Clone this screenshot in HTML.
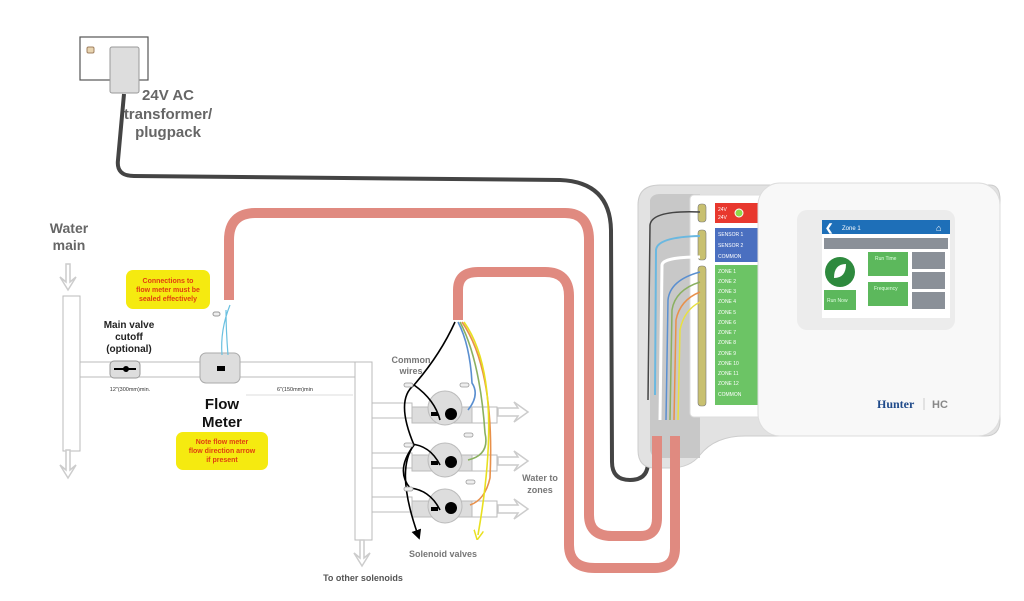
<!DOCTYPE html>
<html><head><meta charset="utf-8"><style>
html,body{margin:0;padding:0;background:#fff;}
svg{display:block;font-family:"Liberation Sans",Arial,sans-serif;}
</style></head><body>
<svg width="1024" height="601" viewBox="0 0 1024 601" xmlns="http://www.w3.org/2000/svg">
<defs>
<marker id="ah" markerUnits="userSpaceOnUse" markerWidth="10" markerHeight="10" refX="5" refY="5" orient="auto"><path d="M0,0 L10,5 L0,10 Z" fill="#000"/></marker>
<marker id="ay" markerUnits="userSpaceOnUse" markerWidth="10" markerHeight="10" refX="5" refY="5" orient="auto"><path d="M0,0 L10,5 L0,10" fill="none" stroke="#e8e020" stroke-width="1.5"/></marker>
</defs>
<rect width="1024" height="601" fill="#fff"/>

<!-- wall plug -->
<rect x="80" y="37" width="68" height="43" fill="#fff" stroke="#555" stroke-width="1.2"/>
<rect x="87" y="47" width="7" height="6" rx="1.5" fill="#e8d4b0" stroke="#a08060"/>
<rect x="110" y="47" width="29" height="46" rx="2" fill="#ddd" stroke="#999"/>
<text x="168" y="100" font-size="15" font-weight="bold" fill="#666" text-anchor="middle">24V AC</text>
<text x="168" y="119" font-size="15" font-weight="bold" fill="#666" text-anchor="middle">transformer/</text>
<text x="168" y="137" font-size="15" font-weight="bold" fill="#666" text-anchor="middle">plugpack</text>

<!-- dark power cable -->
<path d="M124,94 L118,160 Q116,176 134,176 L560,180 Q610,182 611,230 L612,462 Q612,480 630,480 Q648,480 648,462 L648,395" fill="none" stroke="#444" stroke-width="4"/>

<!-- controller housing -->
<path d="M660,185 L990,185 Q1000,185 1000,200 L1000,420 Q1000,436 985,436 L745,436 Q715,436 700,455 Q690,468 670,468 L655,468 Q638,468 638,450 L638,205 Q638,185 660,185 Z" fill="#e2e2e2" stroke="#ccc"/>
<path d="M650,200 Q652,194 660,194 L700,194 L700,458 L660,458 Q650,458 650,448 Z" fill="#c8c8c8"/>
<!-- terminal strip -->
<rect x="690" y="195" width="75" height="222" rx="4" fill="#fff" stroke="#ddd"/>
<rect x="715" y="203" width="45" height="20" fill="#e8382e"/>
<text x="718" y="211" font-size="5" fill="#fff">24V</text>
<text x="718" y="219" font-size="5" fill="#fff">24V</text>
<circle cx="739" cy="213" r="4" fill="#8fd84a" stroke="#fff"/>
<rect x="715" y="228" width="45" height="34" fill="#4a6fc0"/>
<text x="718" y="236" font-size="5" fill="#fff">SENSOR 1</text>
<text x="718" y="247" font-size="5" fill="#fff">SENSOR 2</text>
<text x="718" y="258" font-size="5" fill="#fff">COMMON</text>
<rect x="715" y="265" width="45" height="140" fill="#6cc465"/>
<g font-size="5" fill="#fff">
<text x="718" y="273">ZONE 1</text><text x="718" y="283">ZONE 2</text><text x="718" y="293">ZONE 3</text>
<text x="718" y="303">ZONE 4</text><text x="718" y="314">ZONE 5</text><text x="718" y="324">ZONE 6</text>
<text x="718" y="334">ZONE 7</text><text x="718" y="344">ZONE 8</text><text x="718" y="355">ZONE 9</text>
<text x="718" y="365">ZONE 10</text><text x="718" y="375">ZONE 11</text><text x="718" y="385">ZONE 12</text>
<text x="718" y="396">COMMON</text>
</g>
<g fill="#c8c070" stroke="#777" stroke-width="0.6">
<rect x="698" y="204" width="8" height="18" rx="3"/>
<rect x="698" y="230" width="8" height="30" rx="3"/>
<rect x="698" y="266" width="8" height="140" rx="3"/>
</g>
<!-- wires to terminals -->
<path d="M655,395 L656,250 Q657,237 700,236" fill="none" stroke="#6ab8e0" stroke-width="2"/>
<path d="M660,420 L662,265 Q663,257 700,257" fill="none" stroke="#fff" stroke-width="3"/>
<path d="M666,420 L668,300 Q670,280 700,272" fill="none" stroke="#5a8fd0" stroke-width="1.5"/>
<path d="M670,420 L672,310 Q675,290 700,282" fill="none" stroke="#8ab060" stroke-width="1.5"/>
<path d="M674,420 L676,320 Q680,300 700,292" fill="none" stroke="#e8904a" stroke-width="1.5"/>
<path d="M678,420 L680,330 Q684,310 700,302" fill="none" stroke="#e8e040" stroke-width="1.5"/>
<path d="M648,400 L650,225 Q652,210 700,212" fill="none" stroke="#444" stroke-width="1.5"/>
<!-- front cover -->
<rect x="758" y="183" width="242" height="253" rx="22" fill="#f8f8f8" stroke="#ddd"/>
<rect x="797" y="210" width="158" height="120" rx="10" fill="#ececec"/>
<rect x="822" y="220" width="128" height="98" fill="#fff"/>
<rect x="822" y="220" width="128" height="14" fill="#1e6fb8"/>
<text x="825" y="231" font-size="10" font-weight="bold" fill="#fff">❮</text>
<text x="842" y="230" font-size="6" fill="#fff">Zone 1</text>
<text x="936" y="231" font-size="9" fill="#fff">⌂</text>
<rect x="824" y="238" width="124" height="11" fill="#8a9098"/>
<circle cx="840" cy="272" r="15" fill="#2e8a3e"/>
<path d="M834,278 Q834,264 846,264 Q846,278 834,278 Z" fill="#fff"/>
<rect x="824" y="290" width="32" height="20" fill="#5cb85c"/>
<text x="827" y="302" font-size="5" fill="#e0ffe0">Run Now</text>
<rect x="868" y="252" width="40" height="24" fill="#5cb85c"/>
<text x="875" y="260" font-size="5" fill="#e0ffe0">Run Time</text>
<rect x="868" y="282" width="40" height="24" fill="#5cb85c"/>
<text x="874" y="290" font-size="5" fill="#e0ffe0">Frequency</text>
<rect x="912" y="252" width="33" height="17" fill="#8a9098"/>
<rect x="912" y="272" width="33" height="17" fill="#8a9098"/>
<rect x="912" y="292" width="33" height="17" fill="#8a9098"/>
<text x="877" y="408" font-size="12" font-weight="bold" fill="#1f4a8a" font-family="Liberation Serif,serif">Hunter</text>
<line x1="924" y1="398" x2="924" y2="410" stroke="#ccc"/>
<text x="932" y="408" font-size="11" font-weight="bold" fill="#888">HC</text>

<!-- pink cables -->
<g fill="none" stroke="#e08a80" stroke-width="10" stroke-linecap="butt">
<path d="M229,300 L229,240 Q229,213 256,213 L565,213 Q589,213 589,240 L589,515 Q589,536 612,536 L640,536 Q657,536 657,518 L657,436"/>
<path d="M458,320 L458,290 Q458,272 478,272 L545,272 Q569,272 569,296 L569,545 Q569,568 595,568 L655,568 Q675,568 675,548 L675,436"/>
</g>

<!-- pipes -->
<g fill="#fff" stroke="#bbb" stroke-width="1">
<rect x="63" y="296" width="17" height="155"/>
<rect x="80" y="362" width="275" height="15"/>
<rect x="355" y="362" width="17" height="178"/>
<rect x="372" y="403" width="40" height="15"/>
<rect x="372" y="453" width="40" height="15"/>
<rect x="372" y="497" width="40" height="15"/>
</g>
<!-- flow arrows -->
<g fill="#fff" stroke="#ccc" stroke-width="1.5">
<path d="M66,264 L70,264 L70,282 L76,277 L68,290 L60,277 L66,282 Z"/>
<path d="M66,450 L70,450 L70,470 L76,465 L68,478 L60,465 L66,470 Z"/>
<path d="M360,540 L364,540 L364,558 L370,553 L362,566 L354,553 L360,558 Z"/>
<path d="M498,408 L518,408 L514,402 L528,412 L514,422 L518,416 L498,416 Z"/>
<path d="M498,457 L518,457 L514,451 L528,461 L514,471 L518,465 L498,465 Z"/>
<path d="M498,505 L518,505 L514,499 L528,509 L514,519 L518,513 L498,513 Z"/>
</g>
<text x="69" y="233" font-size="14" font-weight="bold" fill="#666" text-anchor="middle">Water</text>
<text x="69" y="250" font-size="14" font-weight="bold" fill="#666" text-anchor="middle">main</text>

<!-- main valve -->
<rect x="110" y="361" width="30" height="17" rx="4" fill="#ddd" stroke="#999"/>
<line x1="114" y1="369" x2="136" y2="369" stroke="#000" stroke-width="2"/>
<circle cx="126" cy="369" r="3" fill="#000"/>
<text x="129" y="328" font-size="10" font-weight="bold" fill="#222" text-anchor="middle">Main valve</text>
<text x="129" y="340" font-size="10" font-weight="bold" fill="#222" text-anchor="middle">cutoff</text>
<text x="129" y="352" font-size="10" font-weight="bold" fill="#222" text-anchor="middle">(optional)</text>
<text x="130" y="391" font-size="5.5" fill="#333" text-anchor="middle">12"(300mm)min.</text>
<text x="295" y="391" font-size="5.5" fill="#333" text-anchor="middle">6"(150mm)min</text>
<line x1="246" y1="395" x2="353" y2="395" stroke="#ddd"/>

<!-- flow meter -->
<rect x="200" y="353" width="40" height="30" rx="6" fill="#ddd" stroke="#aaa"/>
<rect x="217" y="366" width="8" height="5" fill="#000"/>
<path d="M228,355 Q226,330 226,310 M222,355 Q220,330 230,305" fill="none" stroke="#6ac0e0" stroke-width="1.2"/>
<path d="M230,350 Q234,330 232,305" fill="none" stroke="#fff" stroke-width="2"/>
<rect x="213" y="312" width="7" height="4" rx="2" fill="#eee" stroke="#999"/>
<text x="222" y="409" font-size="15" font-weight="bold" fill="#111" text-anchor="middle">Flow</text>
<text x="222" y="427" font-size="15" font-weight="bold" fill="#111" text-anchor="middle">Meter</text>
<rect x="126" y="270" width="84" height="39" rx="7" fill="#f5ea10"/>
<g font-size="7" font-weight="bold" fill="#e04010" text-anchor="middle">
<text x="168" y="283">Connections to</text><text x="168" y="292">flow meter must be</text><text x="168" y="301">sealed effectively</text>
</g>
<rect x="176" y="432" width="92" height="38" rx="7" fill="#f5ea10"/>
<g font-size="7" font-weight="bold" fill="#e04010" text-anchor="middle">
<text x="222" y="444">Note flow meter</text><text x="222" y="453">flow direction arrow</text><text x="222" y="462">if present</text>
</g>

<!-- solenoid valves -->
<g fill="#ddd" stroke="#bbb">
<rect x="412" y="407" width="60" height="16"/><circle cx="445" cy="408" r="17"/>
<rect x="412" y="455" width="60" height="16"/><circle cx="445" cy="460" r="17"/>
<rect x="412" y="501" width="60" height="16"/><circle cx="445" cy="506" r="17"/>
<rect x="472" y="407" width="25" height="16" fill="#fff"/>
<rect x="472" y="455" width="25" height="16" fill="#fff"/>
<rect x="472" y="501" width="25" height="16" fill="#fff"/>
</g>
<g fill="#000">
<rect x="431" y="412" width="7" height="4"/><circle cx="451" cy="414" r="6"/>
<rect x="431" y="461" width="7" height="4"/><circle cx="451" cy="462" r="6"/>
<rect x="431" y="507" width="7" height="4"/><circle cx="451" cy="508" r="6"/>
</g>
<!-- wires -->
<g fill="none" stroke-width="1.6">
<path d="M455,322 Q440,355 414,385" stroke="#000"/>
<path d="M414,385 Q395,400 414,445 Q395,470 418,535" stroke="#000" marker-end="url(#ah)"/>
<path d="M414,385 Q435,400 440,420 M410,444 Q430,445 440,465 M410,488 Q430,490 440,510 M414,445 Q395,470 410,488" stroke="#000"/>
<path d="M458,322 Q470,345 472,383 Q480,395 468,410" stroke="#5a8fd0"/>
<path d="M460,322 Q480,360 485,433 Q490,455 468,460" stroke="#8ab060"/>
<path d="M462,322 Q495,370 490,478 Q485,500 470,505" stroke="#e8904a"/>
<path d="M464,322 Q505,380 478,535" stroke="#e8e020" marker-end="url(#ay)"/>
</g>
<g fill="#eee" stroke="#999" stroke-width="0.8">
<rect x="404" y="383" width="9" height="4" rx="2"/><rect x="460" y="383" width="9" height="4" rx="2"/>
<rect x="404" y="443" width="9" height="4" rx="2"/><rect x="464" y="433" width="9" height="4" rx="2"/>
<rect x="404" y="487" width="9" height="4" rx="2"/><rect x="466" y="480" width="9" height="4" rx="2"/>
</g>
<text x="411" y="363" font-size="9" font-weight="bold" fill="#777" text-anchor="middle">Common</text>
<text x="411" y="374" font-size="9" font-weight="bold" fill="#777" text-anchor="middle">wires</text>
<text x="443" y="557" font-size="9" font-weight="bold" fill="#777" text-anchor="middle">Solenoid valves</text>
<text x="540" y="481" font-size="9" font-weight="bold" fill="#777" text-anchor="middle">Water to</text>
<text x="540" y="493" font-size="9" font-weight="bold" fill="#777" text-anchor="middle">zones</text>
<text x="363" y="581" font-size="9" font-weight="bold" fill="#555" text-anchor="middle">To other solenoids</text>
</svg>
</body></html>
